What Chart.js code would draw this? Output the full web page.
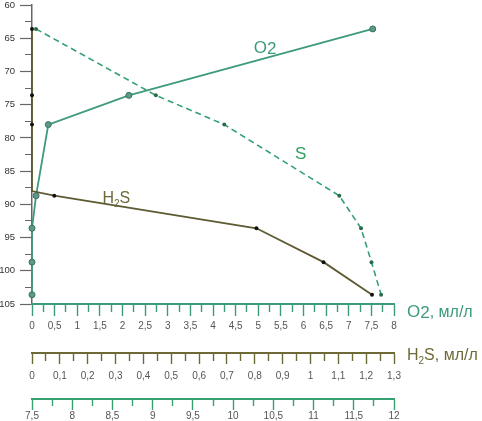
<!DOCTYPE html>
<html><head><meta charset="utf-8">
<script src="https://cdn.jsdelivr.net/npm/chart.js@4/dist/chart.umd.min.js"></script>
<style>html,body{margin:0;padding:0;background:#fff}#wrap{width:482px;height:421px}</style>
</head><body><div id="wrap"><canvas id="c" width="482" height="421"></canvas></div>
<script>
// ---- data (depth in m) ----
const depth = [63.6, 73.6, 78.0, 88.7, 93.6, 98.7, 103.6];
const o2Values = [7.53, 2.14, 0.36, 0.09, 0, 0, 0];
const sValues = [7.55, 9.04, 9.89, 11.32, 11.59, 11.72, 11.84];
const h2sDepth = [63.6, 73.6, 78.0, 88.0, 88.7, 93.6, 98.7, 103.6];
const h2sValues = [0, 0, 0, 0, 0.08, 0.806, 1.047, 1.221];
const h2sMarker = [true, true, true, false, true, true, true, true];
// ---- axis ranges / tick steps ----
const depthRange = [60, 105]; const depthMajor = 5; const depthMinor = 2.5;
const o2Range = [0, 8]; const o2Major = 0.5; const o2Minor = 0.25;
const h2sRange = [0, 1.3]; const h2sMajor = 0.1; const h2sMinor = 0.05;
const sRange = [7.5, 12]; const sMajor = 0.5; const sMinor = 0.25;

const FAM = "'Liberation Sans', Arial, sans-serif";
const TEAL = '#3b9b7c', OLIVE = '#6e6a38', SGREEN = '#35a070';

function isMajor(v, step) { const q = v / step; return Math.abs(q - Math.round(q)) < 1e-6; }
function fmt(v) { return String(Math.round(v * 100) / 100).replace('.', ','); }

function xAxis(range, major, minor, color, weight, height, pad, tl, minorLen) {
  return {
    type: 'linear', position: 'bottom', weight: weight, min: range[0], max: range[1],
    grid: { drawOnChartArea: false, drawTicks: true, tickLength: tl, tickColor: color, tickWidth: 1.4,
      tickBorderDash: ctx => (ctx.tick && isMajor(ctx.tick.value, major)) ? [] : [minorLen, 100] },
    border: { color: color, width: 2 },
    ticks: { stepSize: minor, autoSkip: false, maxRotation: 0, minRotation: 0, padding: pad,
      color: '#555', font: { size: 10, family: FAM },
      callback: v => isMajor(v, major) ? fmt(v) : '' },
    afterFit: s => { s.height = height; s.paddingLeft = 0; s.paddingRight = 0; }
  };
}

function drawParts(ctx, parts, x, yBase, color, align) {
  let w = 0;
  parts.forEach(p => { ctx.font = p.size + 'px ' + FAM; p.w = ctx.measureText(p.t).width; w += p.w; });
  let cx = align === 'center' ? x - w / 2 : x;
  ctx.fillStyle = color; ctx.textAlign = 'left'; ctx.textBaseline = 'alphabetic';
  parts.forEach(p => { ctx.font = p.size + 'px ' + FAM; ctx.fillText(p.t, cx, yBase + (p.dy || 0)); cx += p.w; });
}

const textPlugin = {
  id: 'texts',
  afterDraw(chart) {
    const ctx = chart.ctx, y = chart.scales.y, sc = chart.scales;
    ctx.save();
    // series names, anchored in data coordinates
    let px = sc.xO2.getPixelForValue(5.15), py = y.getPixelForValue(66.3);
    drawParts(ctx, [{t: 'O', size: 17}, {t: '2', size: 17, dy: 1.5}], px, py + 6, TEAL, 'center');
    px = sc.xS.getPixelForValue(10.84); py = y.getPixelForValue(82.3);
    drawParts(ctx, [{t: 'S', size: 17}], px, py + 6, '#2f9e5e', 'center');
    px = sc.xH2S.getPixelForValue(0.303); py = y.getPixelForValue(88.9);
    drawParts(ctx, [{t: 'H', size: 16}, {t: '2', size: 10, dy: 4}, {t: 'S', size: 16}], px, py + 6, OLIVE, 'center');
    // axis titles at the right
    const lx = chart.chartArea.right + 13;
    drawParts(ctx, [{t: 'O', size: 17}, {t: '2', size: 17, dy: 1.5}, {t: ', мл/л', size: 16}], lx, sc.xO2.top + 12.5, TEAL, 'left');
    drawParts(ctx, [{t: 'H', size: 16}, {t: '2', size: 10, dy: 4}, {t: 'S, мл/л', size: 16}], lx, sc.xH2S.top + 6.5, OLIVE, 'left');
    ctx.restore();
  }
};

new Chart(document.getElementById('c'), {
  type: 'scatter',
  data: {
    datasets: [
      { label: 'H2S', data: h2sDepth.map((d, i) => ({ x: h2sValues[i], y: d })), xAxisID: 'xH2S', yAxisID: 'y',
        showLine: true, borderColor: '#5e5a32', borderWidth: 1.8, tension: 0,
        pointRadius: h2sMarker.map(m => m ? 2 : 0), pointBackgroundColor: '#111', pointBorderColor: '#111', pointBorderWidth: 0, clip: false },
      { label: 'O2', data: depth.map((d, i) => ({ x: o2Values[i], y: d })), xAxisID: 'xO2', yAxisID: 'y',
        showLine: true, borderColor: '#3e9a7d', borderWidth: 1.8, tension: 0,
        pointRadius: 3, pointBackgroundColor: '#5c9a88', pointBorderColor: '#3b6f62', pointBorderWidth: 1, clip: false },
      { label: 'S', data: depth.map((d, i) => ({ x: sValues[i], y: d })), xAxisID: 'xS', yAxisID: 'y',
        showLine: true, borderColor: '#33a072', borderWidth: 1.6, borderDash: [6, 4], tension: 0,
        pointRadius: 2, pointBackgroundColor: '#2b6b4c', pointBorderWidth: 0, clip: false }
    ]
  },
  options: {
    responsive: false, animation: false, events: [],
    layout: { padding: { left: 0, right: 88, top: 4, bottom: 0 } },
    plugins: { legend: { display: false }, tooltip: { enabled: false } },
    scales: {
      y: { type: 'linear', position: 'left', reverse: true, min: depthRange[0], max: depthRange[1],
        grid: { drawOnChartArea: false, tickLength: 12, tickColor: '#666', tickWidth: 1.2,
          tickBorderDash: ctx => (ctx.tick && isMajor(ctx.tick.value, depthMajor)) ? [] : [0, 5, 7, 100] },
        border: { color: '#666', width: 1.5 },
        ticks: { stepSize: depthMinor, autoSkip: false, padding: 5, color: '#333', font: { size: 9.5, family: FAM },
          callback: v => isMajor(v, depthMajor) ? String(v) : '' },
        afterFit: s => { s.width = 32; s.paddingTop = 0; s.paddingBottom = 0; } },
      xO2: xAxis(o2Range, o2Major, o2Minor, TEAL, 1, 49, 4, 12, 7),
      xH2S: xAxis(h2sRange, h2sMajor, h2sMinor, OLIVE, 2, 46, 6, 11, 7),
      xS: xAxis(sRange, sMajor, sMinor, SGREEN, 3, 22, 0, 11, 6)
    }
  },
  plugins: [textPlugin]
});
</script></body></html>
